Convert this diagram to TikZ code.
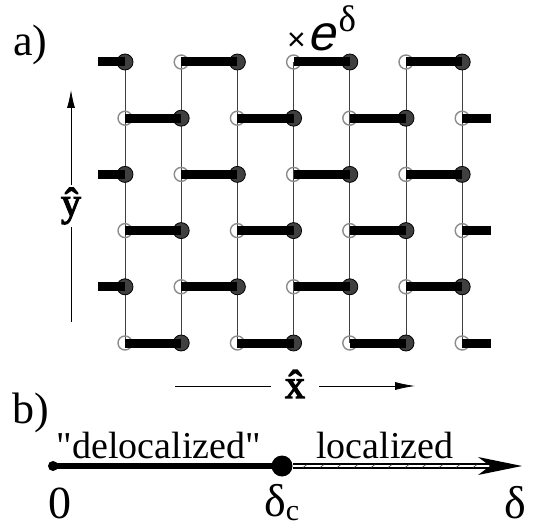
\documentclass[tikz,border=0pt]{standalone}
\usepackage{fontspec}
\setmainfont{Liberation Serif}
\newfontfamily\qserif{Liberation Serif}
\newfontfamily\sansf{Liberation Sans}
\newfontfamily\sansit{Liberation Sans}[FakeSlant=0.22]
\newfontfamily\axfont{Liberation Serif}[FakeBold=3]
\usetikzlibrary{arrows.meta,backgrounds}
\begin{document}
\begin{tikzpicture}[x=1pt,y=-1pt,
  full/.style={circle,draw=black,line width=0.8pt,fill=black!75,minimum size=16pt,inner sep=0pt},
  empty/.style={circle,draw=black!45,line width=1.4pt,minimum size=14pt,inner sep=0pt},
  bond/.style={line width=9pt,line cap=butt},
  rung/.style={line width=0.9pt,draw=black!75},
  axis/.style={line width=0.8pt},
  big/.style={font=\fontsize{44}{48}\selectfont,inner sep=0pt},
  num/.style={font=\fontsize{46}{50}\selectfont,inner sep=0pt},
  lab/.style={font=\qserif\fontsize{38}{42}\selectfont,inner sep=0pt},
  axlab/.style={font=\axfont\fontsize{40}{44}\selectfont}]
\useasboundingbox (0,0) rectangle (538,529);
% lattice sites
\foreach \r in {1,...,6}{
  \foreach \c in {1,...,7}{
    \pgfmathsetmacro\xx{125+56.2*(\c-1)}
    \pgfmathsetmacro\yy{62+56.2*(\r-1)}
    \pgfmathtruncatemacro\s{mod(\r+\c,2)}
    \ifnum\s=0
      \node[full] (n\r-\c) at (\xx,\yy) {};
    \else
      \node[empty] (n\r-\c) at (\xx,\yy) {};
    \fi
  }
}
% vertical rungs
\begin{scope}[on background layer]
\foreach \c in {1,...,7}{
  \draw[rung] (n1-\c.center) -- (n6-\c.center);
}
\end{scope}
% bonds
\foreach \r in {1,3,5}{
  \coordinate (L\r) at ([xshift=-27pt]n\r-1.center);
  \draw[bond] (L\r) -- (n\r-1.center);
  \foreach \c in {2,4,6}{
    \pgfmathtruncatemacro\cn{\c+1}
    \draw[bond] (n\r-\c.center) -- (n\r-\cn.center);
  }
}
\foreach \r in {2,4,6}{
  \coordinate (R\r) at ([xshift=29pt]n\r-7.center);
  \draw[bond] (n\r-7.center) -- (R\r);
  \foreach \c in {1,3,5}{
    \pgfmathtruncatemacro\cn{\c+1}
    \draw[bond] (n\r-\c.center) -- (n\r-\cn.center);
  }
}
% factor label
\node[anchor=base west,inner sep=0pt] (fac) at (287,51)
  {{\sansf\fontsize{32}{34}\selectfont ×}\kern2pt{\sansit\fontsize{50}{54}\selectfont e}\kern3pt\raisebox{19pt}{\fontsize{37}{40}\selectfont δ}};
% panel labels
\node[big,anchor=base west] (pa) at (13,56) {a)};
\node[big,anchor=base west] (pb) at (12,423) {b)};
% y axis
\node[axlab,inner xsep=0pt,inner ysep=3pt] (ylab) at (71,206) {\^{y}};
\coordinate (ybot) at (71,322);
\coordinate (ytop) at (71,90);
\draw[axis] (ybot) -- (ylab.south);
\draw[axis,-{Latex[length=18pt,width=8pt]}] (ylab.north) -- (ytop);
% x axis
\node[axlab,inner xsep=14pt,inner ysep=0pt] (xlab) at (295,384) {\^{x}};
\coordinate (xleft) at (175,386);
\coordinate (xright) at (415,386);
\draw[axis] (xleft) -- (xleft-|xlab.west);
\draw[axis,-{Latex[length=20pt,width=8pt]}] (xlab.east|-xright) -- (xright);
% panel b line
\node[circle,fill=black,minimum size=10pt,inner sep=0pt] (zero) at (53,466) {};
\node[circle,fill=black,minimum size=21pt,inner sep=0pt] (dc) at (282,466) {};
\coordinate (dend) at (491,466);
\draw[line width=5.5pt] (zero.center) -- (dc.center);
\draw[line width=1.6pt,double=white,double distance=2.4pt] (dc.east) -- (dend);
\foreach \x in {305,322,...,480}{
  \draw[line width=0.6pt,black!75] (\x-2,467.5) -- (\x+2,464.5);
}
\fill (478,457) -- (522,466) -- (478,475) -- (490,466) -- cycle;
% labels
\node[lab,anchor=base] (deloc) at (159,458) {"delocalized"};
\node[lab,anchor=base] (loc) at (385,458) {localized};
\node[num,anchor=base] (l0) at (60,518) {0};
\node[num,anchor=base west] (ldc) at (264,516) {δ\raisebox{-4pt}{\fontsize{30}{32}\selectfont c}};
\node[num,anchor=base] (ld) at (515,518) {δ};
\end{tikzpicture}
\end{document}
